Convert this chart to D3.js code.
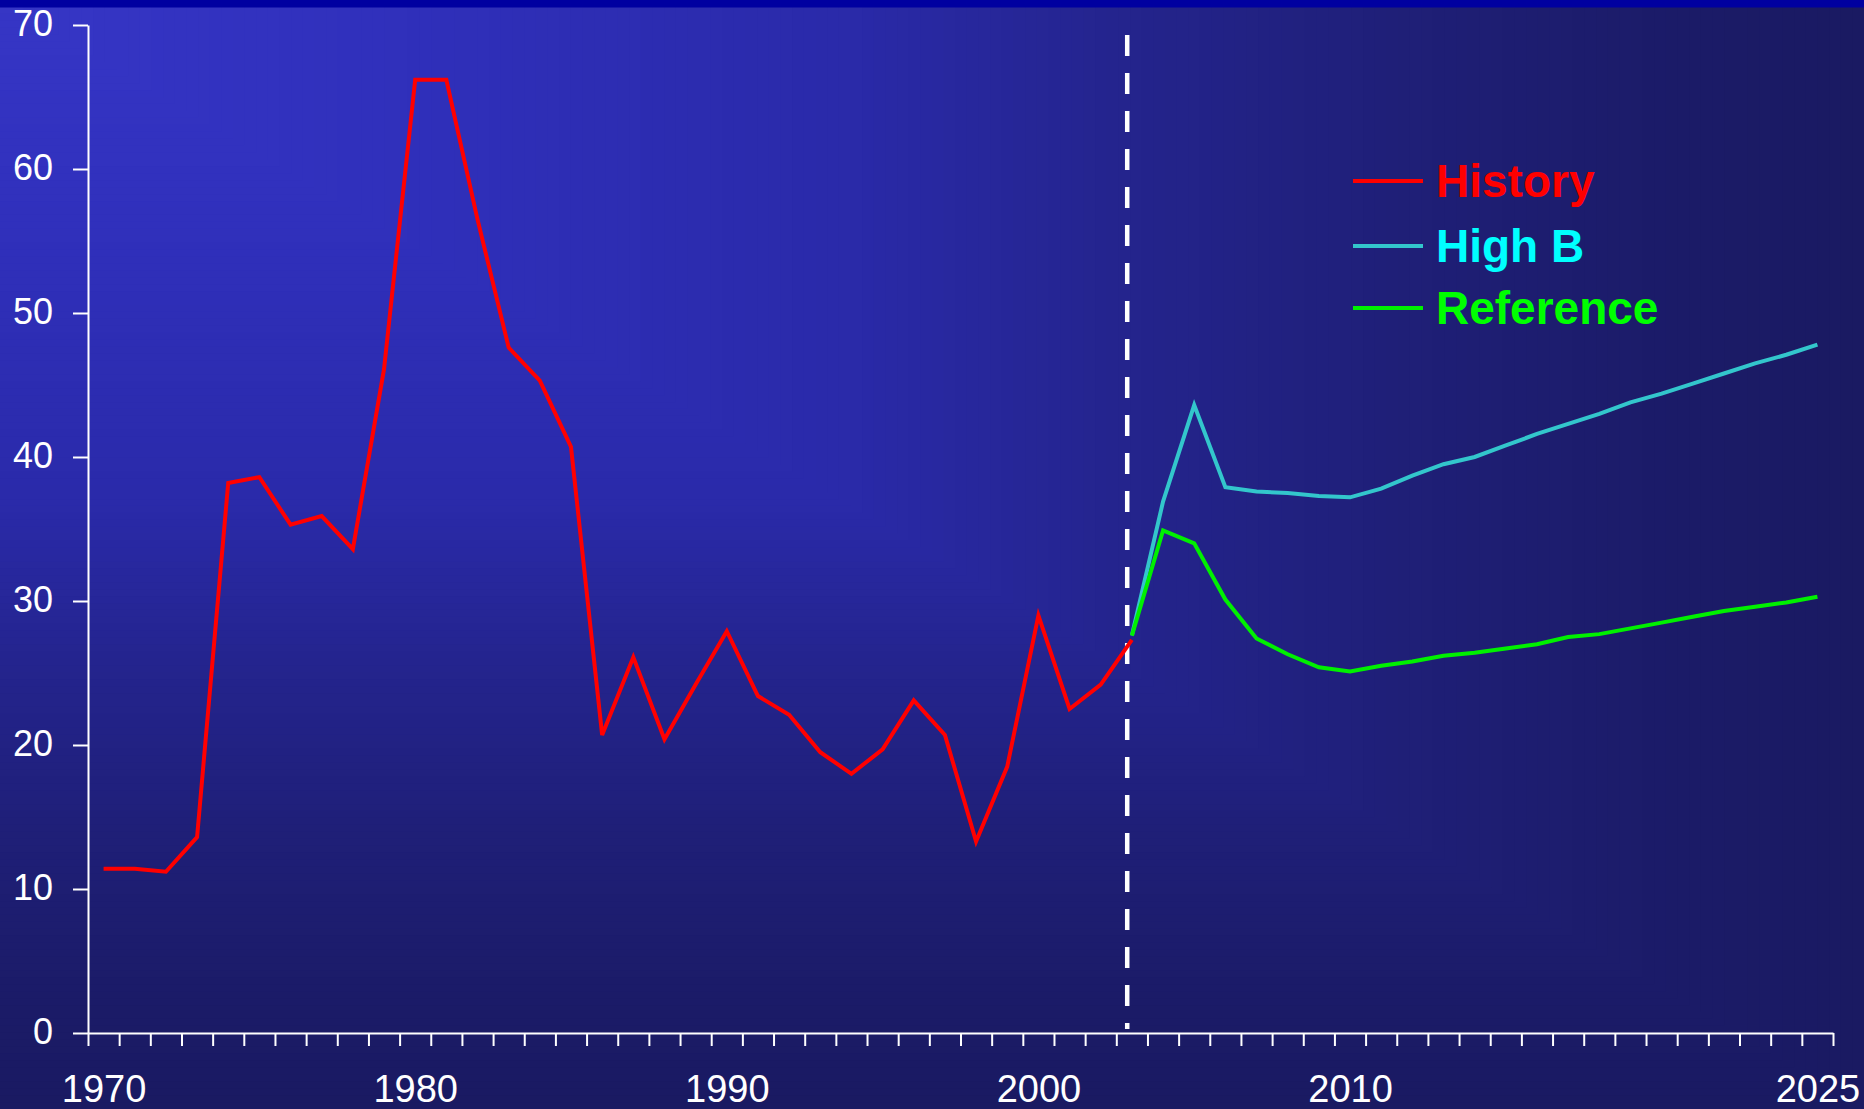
<!DOCTYPE html>
<html>
<head>
<meta charset="utf-8">
<script src="https://cdn.jsdelivr.net/npm/d3@7"></script>
<style>
  html, body { margin: 0; padding: 0; background: #1A1A62; }
  svg { display: block; }
</style>
</head>
<body>
<svg id="chart" width="1864" height="1109"></svg>
<script>
// ---------------- DATA ----------------
const historyYears = [1970,1971,1972,1973,1974,1975,1976,1977,1978,1979,
  1980,1981,1982,1983,1984,1985,1986,1987,1988,1989,
  1990,1991,1992,1993,1994,1995,1996,1997,1998,1999,
  2000,2001,2002,2003];
const historyValues = [11.4,11.4,11.2,13.6,38.2,38.6,35.3,35.9,33.6,46.1,
  66.2,66.2,56.5,47.6,45.3,40.7,20.7,26.1,20.4,24.2,
  27.9,23.4,22.1,19.5,18.0,19.7,23.1,20.7,13.3,18.5,
  29.0,22.5,24.2,27.3];

const projectionYears = [2003,2004,2005,2006,2007,2008,2009,2010,2011,2012,
  2013,2014,2015,2016,2017,2018,2019,2020,2021,2022,2023,2024,2025];
const highBValues = [27.6,36.9,43.6,37.9,37.6,37.5,37.3,37.2,37.8,38.7,
  39.5,40.0,40.8,41.6,42.3,43.0,43.8,44.4,45.1,45.8,46.5,47.1,47.8];
const referenceValues = [27.6,34.9,34.0,30.1,27.4,26.3,25.4,25.1,25.5,25.8,
  26.2,26.4,26.7,27.0,27.5,27.7,28.1,28.5,28.9,29.3,29.6,29.9,30.3];

const xLabelYears = [1970,1980,1990,2000,2010,2025];
const yTickValues = [0,10,20,30,40,50,60,70];
const firstYear = 1970, lastYear = 2025;
const dividerYear = 2002.85;

const legendNames = ["History","High B","Reference"];
const legendLineColors = ["#FF0000","#33C6CC","#00F000"];
const legendTextColors = ["#FF0000","#00FFFF","#00FF00"];

// ---------------- LAYOUT ----------------
const W = 1864, H = 1109;
const plot = { left: 88, right: 1833, top: 25, bottom: 1033 };
const svg = d3.select("#chart");

// Background: rectangular ("from corner") gradient
const bgColor = d3.scaleLinear()
  .domain([0, 0.2, 0.45, 0.6, 0.75, 0.9, 1])
  .range(["#3636C6","#3030BC","#2A2AAA","#24248E","#1F1F78","#1B1B68","#1A1A62"])
  .interpolate(d3.interpolateRgb);
const steps = d3.range(160, 0, -1).map(i => i / 160);
svg.append("g").selectAll("rect").data(steps).join("rect")
  .attr("x", 0).attr("y", 0)
  .attr("width", t => t * W).attr("height", t => t * H)
  .attr("fill", t => bgColor(t));
svg.append("rect").attr("x", 0).attr("y", 0).attr("width", W).attr("height", 7.5)
  .attr("fill", "#0000A0");

// Scales
const x = d3.scaleLinear().domain([firstYear - 0.5, lastYear + 0.5]).range([plot.left, plot.right]);
const y = d3.scaleLinear().domain([0, 70]).range([plot.bottom, plot.top]);

const fontFam = "'Liberation Sans', Arial, Helvetica, sans-serif";

// Y axis
const yAxis = svg.append("g")
  .attr("transform", `translate(${plot.left},0)`)
  .call(d3.axisLeft(y).tickValues(yTickValues).tickSize(15).tickSizeOuter(0).tickPadding(20));
yAxis.selectAll("path, line").attr("stroke", "#FFFFFF").attr("stroke-width", 2);
yAxis.selectAll("text").attr("fill", "#FFFFFF").style("font-family", fontFam)
  .style("font-size", "36px").attr("dy", "0.28em");

// X axis: tick marks at category boundaries
const boundaries = d3.range(firstYear - 0.5, lastYear + 1, 1);
const xAxis = svg.append("g")
  .attr("transform", `translate(0,${plot.bottom})`)
  .call(d3.axisBottom(x).tickValues(boundaries).tickSize(13).tickSizeOuter(0).tickFormat(""));
xAxis.selectAll("path, line").attr("stroke", "#FFFFFF").attr("stroke-width", 2);

// X labels
const xLab = svg.append("g")
  .attr("transform", `translate(0,${plot.bottom})`)
  .call(d3.axisBottom(x).tickValues(xLabelYears).tickSize(0).tickPadding(42).tickFormat(d3.format("d")));
xLab.select(".domain").remove();
xLab.selectAll("text").attr("fill", "#FFFFFF").style("font-family", fontFam)
  .style("font-size", "38px");

// Divider dashed line
svg.append("line")
  .attr("x1", x(dividerYear)).attr("x2", x(dividerYear))
  .attr("y1", y(69.3)).attr("y2", plot.bottom - 4)
  .attr("stroke", "#FFFFFF").attr("stroke-width", 4.5)
  .attr("stroke-dasharray", "21 17");

// Lines
const line = d3.line().x(d => x(d[0])).y(d => y(d[1]));
const series = [
  { pts: projectionYears.map((yr, i) => [yr, highBValues[i]]), color: legendLineColors[1] },
  { pts: projectionYears.map((yr, i) => [yr, referenceValues[i]]), color: legendLineColors[2] },
  { pts: historyYears.map((yr, i) => [yr, historyValues[i]]), color: legendLineColors[0] }
];
svg.append("g").selectAll("path").data(series).join("path")
  .attr("d", d => line(d.pts))
  .attr("fill", "none")
  .attr("stroke", d => d.color)
  .attr("stroke-width", 4)
  .attr("stroke-linejoin", "miter");

// Legend
const legend = svg.append("g").attr("transform", "translate(1353,0)");
const rowBase = [197, 262, 324];
legendNames.forEach((name, i) => {
  legend.append("line")
    .attr("x1", 0).attr("x2", 70)
    .attr("y1", rowBase[i] - 16).attr("y2", rowBase[i] - 16)
    .attr("stroke", legendLineColors[i]).attr("stroke-width", 4);
  legend.append("text")
    .attr("x", 83).attr("y", rowBase[i])
    .attr("fill", legendTextColors[i])
    .style("font-family", fontFam).style("font-weight", "bold").style("font-size", "46px")
    .text(name);
});
</script>
</body>
</html>
